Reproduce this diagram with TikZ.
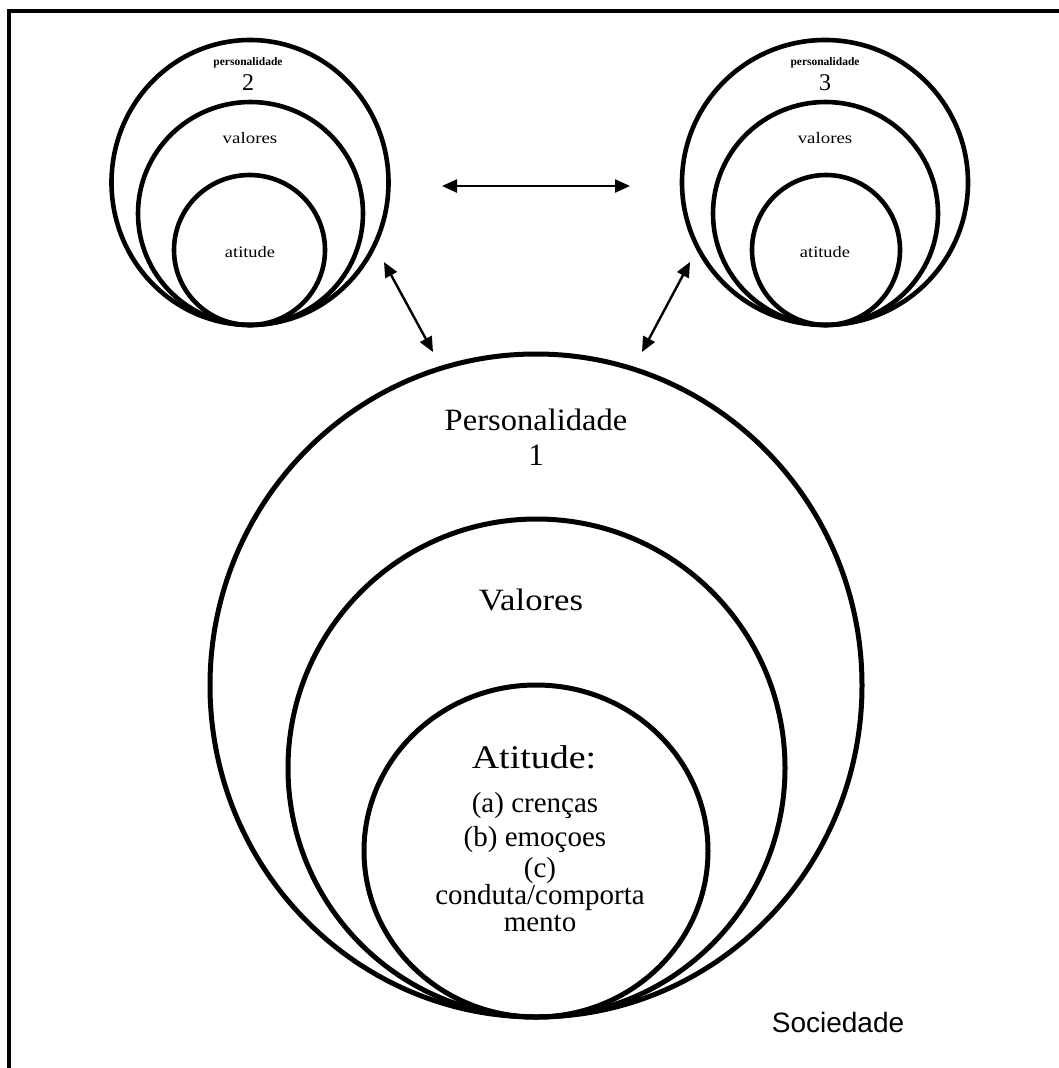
\documentclass[tikz,border=0pt]{standalone}
\usepackage{fontspec}
\setmainfont{Liberation Serif}
\newfontfamily\sansf{Liberation Sans}
\usetikzlibrary{arrows.meta}
\begin{document}
\begin{tikzpicture}[x=1pt,y=-1pt,
  ring/.style={line width=5pt},
  smallring/.style={line width=4.6pt},
  link/.style={line width=2.4pt,{Triangle[length=15pt,width=13pt]}-{Triangle[length=15pt,width=13pt]}},
  lbl/.style={inner sep=0pt,align=center},
  bigtxt/.style={lbl,font=\fontsize{31}{33}\selectfont},
  midtxt/.style={lbl,font=\fontsize{29}{31}\selectfont}]
\useasboundingbox (0,0) rectangle (1059,1068);
\clip (0,0) rectangle (1059,1068);
% frame
\draw[line width=4pt] (9,1080) -- (9,11) -- (1070,11);
% small circles 2
\draw[smallring] (250,182.5) ellipse [x radius=138.5, y radius=142.5];
\draw[smallring] (250.5,213.5) ellipse [x radius=112.5, y radius=111.5];
\draw[smallring] (249.5,250) ellipse [x radius=75.5, y radius=75];
\node[lbl,font=\bfseries\fontsize{11.5}{13}\selectfont] (p2) at (248,63) {personalidade};
\node[lbl,font=\fontsize{24}{26}\selectfont] (n2) at (248,83) {2};
\node[lbl,font=\fontsize{16}{18}\selectfont] (v2) at (250,138) {\scalebox{1.18}[1]{valores}};
\node[lbl,font=\fontsize{16}{18}\selectfont] (a2) at (250,252) {\scalebox{1.15}[1]{atitude}};
% small circles 3
\draw[smallring] (825,182.5) ellipse [x radius=143, y radius=142.5];
\draw[smallring] (825.5,213.5) ellipse [x radius=112.5, y radius=111.5];
\draw[smallring] (826,250) ellipse [x radius=74, y radius=75];
\node[lbl,font=\bfseries\fontsize{11.5}{13}\selectfont] (p3) at (825,63) {personalidade};
\node[lbl,font=\fontsize{24}{26}\selectfont] (n3) at (825,83) {3};
\node[lbl,font=\fontsize{16}{18}\selectfont] (v3) at (825,138) {\scalebox{1.18}[1]{valores}};
\node[lbl,font=\fontsize{16}{18}\selectfont] (a3) at (825,252) {\scalebox{1.15}[1]{atitude}};
% big circles
\draw[ring] (536,685.5) ellipse [x radius=326, y radius=331.5];
\draw[ring] (536.5,768) ellipse [x radius=248.5, y radius=249];
\draw[ring] (536,851) ellipse [x radius=172, y radius=166];
\node[bigtxt] (p1) at (536,420) {\scalebox{1.05}[1]{Personalidade}};
\node[bigtxt] (n1) at (536,455) {1};
\node[bigtxt] (v1) at (531,600) {\scalebox{1.12}[1]{Valores}};
\node[lbl,font=\fontsize{33}{35}\selectfont] (a1) at (534,757) {\scalebox{1.15}[1]{Atitude:}};
\node[midtxt] (la) at (535,806) {(a) crenças};
\node[midtxt] (lb) at (535,840) {(b) emoçoes};
\node[lbl,font=\fontsize{29}{27}\selectfont] (lc) at (540,895) {(c)\\conduta/comporta\\mento};
\node[lbl,font=\sansf\fontsize{28}{30}\selectfont] (soc) at (838,1022) {Sociedade};
% arrows
\coordinate (h1) at (442,186);
\coordinate (h2) at (630,186);
\coordinate (l1) at (384,262);
\coordinate (l2) at (433,352);
\coordinate (r1) at (690,262);
\coordinate (r2) at (642,352);
\draw[link] (h1) -- (h2);
\draw[link] (l1) -- (l2);
\draw[link] (r1) -- (r2);
\end{tikzpicture}
\end{document}
